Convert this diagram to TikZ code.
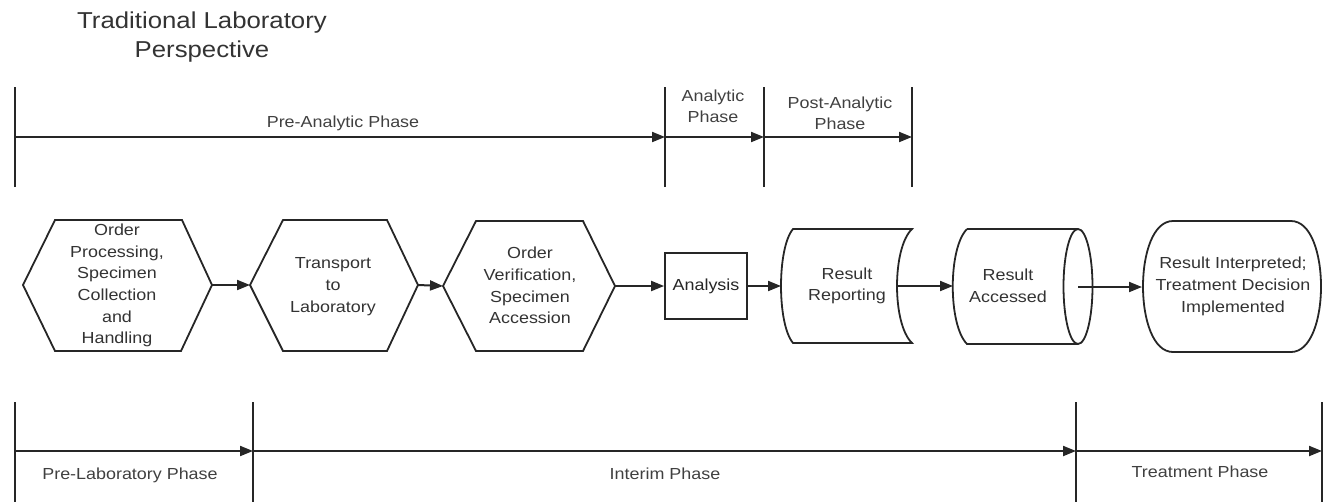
\documentclass[tikz,border=0pt]{standalone}
\usepackage{fontspec}
\setmainfont{Liberation Sans}[FakeStretch=1.12]
\usetikzlibrary{arrows.meta}

\begin{document}
\begin{tikzpicture}[
	x=1pt, y=-1pt,
	fase/.style={line width=2pt, black!85},
	freccia/.style={-{Triangle[length=13pt,width=10pt]}, line width=2pt, black!85},
	blocco/.style={line width=1.8pt, black!85, line join=miter},
	testo/.style={font=\fontsize{16}{21.7}\selectfont, text=black!80, align=center, inner sep=0pt},
	etich/.style={font=\fontsize{16}{21}\selectfont, text=black!75, align=center, inner sep=0pt},
	titolo/.style={font=\fontsize{23}{29}\selectfont, text=black!80, align=center, inner sep=0pt},
	]
	
	\useasboundingbox (0,0) rectangle (1324,501);
	
	\def\ytop{137}    % asse delle fasi (alto)
	\def\ybot{451}    % asse delle fasi (basso)
	
	%%═══ TITOLO ══════════════════════════════════════════════════════
	\node[titolo] (titolo) at (202,37) {Traditional Laboratory\\Perspective};
	
	%%═══ FASI DEL LABORATORIO (alto) ═════════════════════════════════
	\coordinate (pa0) at (15,\ytop);
	\coordinate (pa1) at (665,\ytop);
	\coordinate (pa2) at (764,\ytop);
	\coordinate (pa3) at (912,\ytop);
	\foreach \c in {pa0,pa1,pa2,pa3}
		\draw[fase] ([yshift=-50pt]\c) -- ([yshift=50pt]\c);
	\draw[freccia] (pa0) -- (pa1);
	\draw[freccia] (pa1) -- (pa2);
	\draw[freccia] (pa2) -- (pa3);
	\node[etich] (preanal) at (343,123) {Pre-Analytic Phase};
	\node[etich] (anal) at (713,106) {Analytic\\Phase};
	\node[etich] (postanal) at (840,113) {Post-Analytic\\Phase};
	
	%%═══ PROCESSO ════════════════════════════════════════════════════
	% esagoni
	\draw[blocco] (23,285) -- (55,220) -- (182,220) -- (212,285) -- (181,351) -- (55,351) -- cycle;
	\node[testo] (ordine) at (117,285.5) {Order\\Processing,\\Specimen\\Collection\\and\\Handling};
	\coordinate (ordine-e) at (212,285);
	
	\draw[blocco] (250,285) -- (283,220) -- (387,220) -- (418,285) -- (387,351) -- (283,351) -- cycle;
	\node[testo] (trasporto) at (333,286.5) {Transport\\to\\Laboratory};
	\coordinate (trasporto-w) at (250,285);
	\coordinate (trasporto-e) at (418,285);
	
	\draw[blocco] (443,286) -- (476,221) -- (583,221) -- (615,286) -- (583,351) -- (476,351) -- cycle;
	\node[testo] (verifica) at (530,285.5) {Order\\Verification,\\Specimen\\Accession};
	\coordinate (verifica-w) at (443,286);
	\coordinate (verifica-e) at (615,286);
	
	% analisi
	\node[testo, draw, line width=1.8pt, black!85, minimum width=82pt, minimum height=66pt] (analisi) at (706,286) {Analysis};
	
	% referto (dati memorizzati)
	\draw[blocco] (793,229) -- (912,229) .. controls (892,248) and (892,324) .. (912,343)
		-- (793,343) .. controls (777,324) and (777,248) .. (793,229) -- cycle;
	\node[testo] (referto) at (847,286) {Result\\Reporting};
	\coordinate (referto-w) at (781,286);
	\coordinate (referto-e) at (897,286);
	
	% accesso (cilindro orizzontale)
	\draw[blocco] (967,229) -- (1078,229) (1078,344) -- (967,344) .. controls (948,325) and (948,248) .. (967,229);
	\draw[blocco] (1078,286.5) ellipse [x radius=14.5, y radius=57.5];
	\node[testo] (accesso) at (1008,286) {Result\\Accessed};
	\coordinate (accesso-w) at (953,286);
	\coordinate (accesso-c) at (1078,287);
	
	% decisione (terminatore)
	\draw[blocco] (1173,221) -- (1291,221) .. controls (1331,221) and (1331,352) .. (1291,352)
		-- (1173,352) .. controls (1133,352) and (1133,221) .. (1173,221) -- cycle;
	\node[testo] (decisione) at (1233,286.5) {Result Interpreted;\\Treatment Decision\\Implemented};
	\coordinate (decisione-w) at (1142,287);
	
	% collegamenti
	\draw[freccia] (ordine-e) -- (trasporto-w);
	\draw[freccia] (trasporto-e) -- (verifica-w);
	\draw[freccia] (verifica-e) -- (analisi.west);
	\draw[freccia] (analisi.east) -- (referto-w);
	\draw[freccia] (referto-e) -- (accesso-w);
	\draw[freccia] (accesso-c) -- (decisione-w);
	
	%%═══ FASI CLINICHE (basso) ═══════════════════════════════════════
	\coordinate (pl0) at (15,\ybot);
	\coordinate (pl1) at (253,\ybot);
	\coordinate (pl2) at (1076,\ybot);
	\coordinate (pl3) at (1322,\ybot);
	\foreach \c in {pl0,pl1,pl2,pl3}
		\draw[fase] ([yshift=49pt]\c) -- ([yshift=-55pt]\c);
	\draw[freccia] (pl0) -- (pl1);
	\draw[freccia] (pl1) -- (pl2);
	\draw[freccia] (pl2) -- (pl3);
	\node[etich] (prelab) at (130,475) {Pre-Laboratory Phase};
	\node[etich] (interim) at (665,474) {Interim Phase};
	\node[etich] (tratt) at (1200,472) {Treatment Phase};
	
\end{tikzpicture}
\end{document}
